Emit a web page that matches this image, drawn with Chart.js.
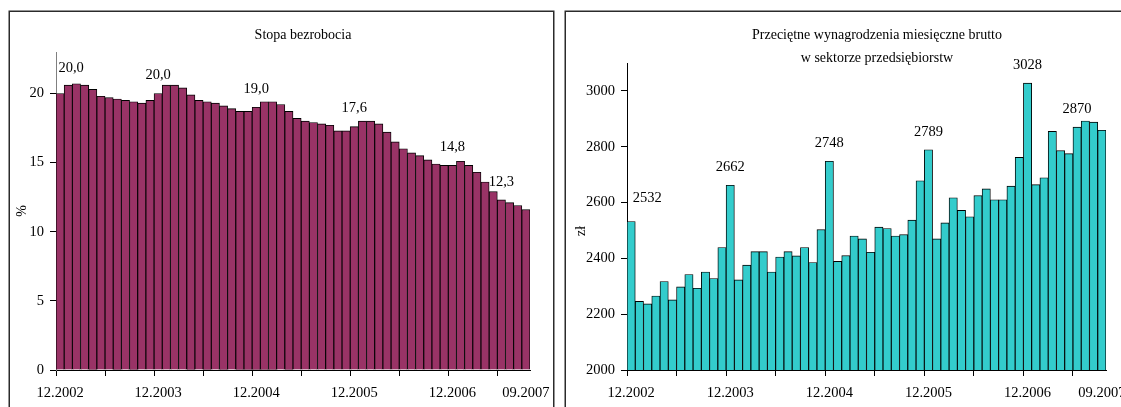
<!DOCTYPE html>
<html><head><meta charset="utf-8">
<script src="https://cdn.jsdelivr.net/npm/chart.js@4/dist/chart.umd.min.js"></script>
<style>
html,body{margin:0;padding:0;background:#fff;overflow:hidden;width:1121px;height:407px;}
#w1{position:absolute;left:0;top:0;width:560px;height:407px;}
#w2{position:absolute;left:560px;top:0;width:561px;height:407px;}
</style></head><body>
<div id="w1"><canvas id="c1"></canvas></div>
<div id="w2"><canvas id="c2"></canvas></div>
<script>
const months = ['12.2002',
 '01.2003','02.2003','03.2003','04.2003','05.2003','06.2003','07.2003','08.2003','09.2003','10.2003','11.2003','12.2003',
 '01.2004','02.2004','03.2004','04.2004','05.2004','06.2004','07.2004','08.2004','09.2004','10.2004','11.2004','12.2004',
 '01.2005','02.2005','03.2005','04.2005','05.2005','06.2005','07.2005','08.2005','09.2005','10.2005','11.2005','12.2005',
 '01.2006','02.2006','03.2006','04.2006','05.2006','06.2006','07.2006','08.2006','09.2006','10.2006','11.2006','12.2006',
 '01.2007','02.2007','03.2007','04.2007','05.2007','06.2007','07.2007','08.2007','09.2007'];

const unemployment = [20.0,
 20.6,20.7,20.6,20.3,19.8,19.7,19.6,19.5,19.4,19.3,19.5,20.0,
 20.6,20.6,20.4,19.9,19.5,19.4,19.3,19.1,18.9,18.7,18.7,19.0,
 19.4,19.4,19.2,18.7,18.2,18.0,17.9,17.8,17.7,17.3,17.3,17.6,
 18.0,18.0,17.8,17.2,16.5,16.0,15.7,15.5,15.2,14.9,14.8,14.8,
 15.1,14.8,14.3,13.6,12.9,12.3,12.1,11.9,11.6];

const wages = [2532,
 2246,2237,2265,2317,2251,2298,2342,2293,2351,2328,2439,2662,
 2323,2376,2424,2424,2351,2405,2424,2409,2439,2385,2503,2748,
 2389,2410,2480,2470,2422,2512,2507,2480,2485,2537,2678,2789,
 2470,2527,2617,2572,2549,2625,2649,2610,2610,2659,2762,3028,
 2664,2689,2855,2786,2775,2870,2892,2888,2859];

const axisLabels = ['12.2002','12.2003','12.2004','12.2005','12.2006','09.2007'];
const annotatedMonths = ['12.2002','12.2003','12.2004','12.2005','12.2006','06.2007'];
const unempRange = [0, 23, 5];
const wageRange = [2000, 3100, 200];

const FONT = 'Liberation Serif, Times New Roman, serif';

const panelPlugin = {
  id: 'panel',
  beforeDraw(chart, args, o) {
    const ctx = chart.ctx;
    ctx.save();
    ctx.strokeStyle = '#2b2b2b';
    ctx.lineWidth = 1.5;
    ctx.strokeRect(o.box[0], o.box[1], o.box[2], o.box[3]);
    ctx.restore();
  },
  afterDraw(chart, args, o) {
    const ctx = chart.ctx, ca = chart.chartArea;
    ctx.save();
    ctx.fillStyle = '#000';
    ctx.textAlign = 'center';
    ctx.textBaseline = 'middle';
    ctx.font = '14px ' + FONT;
    const cx = (ca.left + ca.right) / 2 + o.titleDx;
    o.title.forEach((t, i) => ctx.fillText(t, cx, o.titleY + i * 23));
    ctx.save();
    ctx.translate(o.yTitlePos[0], o.yTitlePos[1]);
    ctx.rotate(-Math.PI / 2);
    ctx.fillText(o.yTitle, 0, 0);
    ctx.restore();
    ctx.font = '14.5px ' + FONT;
    const meta = chart.getDatasetMeta(0);
    const labels = chart.data.labels;
    const data = chart.data.datasets[0].data;
    o.marks.forEach((m, k) => {
      const i = labels.indexOf(m);
      const el = meta.data[i];
      let s = data[i].toFixed(o.decimals);
      if (o.comma) s = s.replace('.', ',');
      const off = o.markOffsets[k];
      ctx.fillText(s, el.x + off[0], el.y - 18 + off[1]);
    });
    ctx.restore();
  }
};

function makeChart(id, values, color, range, yAxisColor, yWidth, pad, panel) {
  return new Chart(document.getElementById(id), {
    type: 'bar',
    data: { labels: months, datasets: [{ data: values, backgroundColor: color, borderColor: '#000', borderWidth: 0.9, categoryPercentage: 1, barPercentage: 1 }] },
    plugins: [panelPlugin],
    options: {
      responsive: true, maintainAspectRatio: false, animation: false,
      layout: { padding: pad },
      plugins: { legend: { display: false }, tooltip: { enabled: false }, panel: panel },
      scales: {
        x: {
          offset: true,
          grid: { offset: true, drawOnChartArea: false, drawTicks: true, tickLength: 6, tickWidth: 1,
                  tickColor: (c) => (c.index % 6 === 0 ? '#000' : 'rgba(0,0,0,0)') },
          border: { display: true, color: '#000', width: 1 },
          ticks: { autoSkip: false, maxRotation: 0, minRotation: 0, padding: 8, color: '#000',
                   font: { family: FONT, size: 14.5 },
                   callback(v) { const l = this.getLabelForValue(v); return axisLabels.includes(l) ? l : ''; } },
          afterFit(s) { s.height = 30; s.paddingLeft = 0; s.paddingRight = 0; }
        },
        y: {
          min: range[0], max: range[1],
          grid: { drawOnChartArea: false, drawTicks: true, tickLength: 6, tickColor: '#000' },
          border: { display: true, color: yAxisColor, width: 1 },
          ticks: { stepSize: range[2], includeBounds: false, padding: 6, color: '#000', font: { family: FONT, size: 14.5 },
                   callback: (v) => String(v) },
          afterFit(s) { s.width = yWidth; }
        }
      }
    }
  });
}

makeChart('c1', unemployment, '#993366', unempRange, '#808080', 56,
  { left: 0, right: 30, top: 52, bottom: 7 },
  { box: [9.25, 11.25, 544.5, 500], title: ['Stopa bezrobocia'], titleDx: 10, titleY: 35,
    yTitle: '%', yTitlePos: [22, 211], marks: annotatedMonths, decimals: 1, comma: true,
    markOffsets: [[11, -7], [0, 0], [0, 0], [0, 0], [0, 0], [0, 0]] });

makeChart('c2', wages, '#33CCCC', wageRange, '#000', 67,
  { left: 0, right: 15, top: 63, bottom: 7 },
  { box: [5.25, 11.25, 700, 500], title: ['Przeciętne wynagrodzenia miesięczne brutto', 'w sektorze przedsiębiorstw'],
    titleDx: 10.5, titleY: 35, yTitle: 'zł', yTitlePos: [21, 231], marks: annotatedMonths, decimals: 0, comma: false,
    markOffsets: [[16, -5], [0, 0], [0, 0], [0, 0], [0, 0], [0, 0]] });
</script>
</body></html>
